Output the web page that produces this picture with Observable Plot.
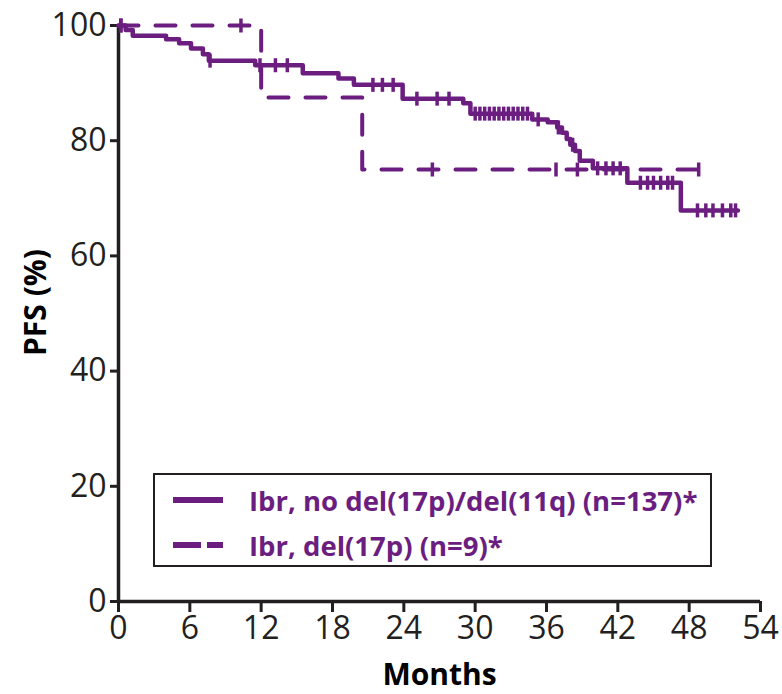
<!DOCTYPE html>
<html>
<head>
<meta charset="utf-8">
<script src="https://cdn.jsdelivr.net/npm/d3@7"></script>
<script src="https://cdn.jsdelivr.net/npm/@observablehq/plot@0.6"></script>
<style>
  body { margin: 0; background: #fff; }
  #wrap { position: relative; width: 782px; height: 694px; }
  #legend {
    position: absolute; left: 153px; top: 473px; width: 555px; height: 90px;
    border: 2px solid #231f20; background: #fff; box-sizing: content-box;
    font-family: "Open Sans", sans-serif; font-weight: 700; font-size: 27.5px; color: #6b1e80;
  }
  #legend .row { position: absolute; left: 0; display: flex; align-items: center; height: 40px; white-space: nowrap; }
  #legend svg { margin-left: 18px; margin-right: 26px; }
</style>
</head>
<body>
<div id="wrap"></div>
<script>
// Kaplan–Meier progression-free survival, ibrutinib arms
const months = [0, 6, 12, 18, 24, 30, 36, 42, 48, 54];
const pfsTicks = [0, 20, 40, 60, 80, 100];
const purple = "#6b1e80";
const ink = "#231f20";

// Ibr, no del(17p)/del(11q): step times (months) and PFS (%) after each step
const noDelTimes = [0, 0.6, 1.2, 4.0, 5.1, 6.1, 7.1, 7.6, 11.5, 15.5, 18.5, 19.8, 23.9, 29.0, 29.6, 34.8, 36.1, 36.9, 37.3, 37.7, 38.0, 38.4, 38.8, 39.9, 42.8, 47.3, 52.1];
const noDelPFS   = [100, 99.2, 98.2, 97.6, 96.9, 96.0, 95.0, 93.9, 93.1, 91.7, 90.8, 89.7, 87.3, 86.5, 84.7, 83.7, 83.2, 82.3, 81.4, 80.3, 79.3, 78.2, 76.5, 75.2, 72.7, 67.9, 67.9];
const noDelCensored = [0.2, 7.7, 11.9, 13.2, 14.2, 21.4, 22.2, 23.1, 25.1, 26.8, 27.8,
  30.0, 30.4, 30.8, 31.2, 31.6, 32.0, 32.4, 32.8, 33.2, 33.6, 34.0, 34.4, 35.3, 37.0, 38.2,
  40.3, 41.0, 41.6, 42.2, 43.9, 44.5, 45.0, 45.6, 46.2, 46.6, 48.7, 49.4, 50.0, 50.8, 51.5, 51.9];

// Ibr, del(17p)
const del17pTimes = [0, 12.0, 20.5, 49.1];
const del17pPFS   = [100, 87.5, 75, 75];
const del17pCensored = [0.2, 10.3, 26.4, 36.8, 38.6, 48.8];

const legendLabels = ["Ibr, no del(17p)/del(11q) (n=137)*", "Ibr, del(17p) (n=9)*"];

const steps = (times, values) => times.map((t, i) => ({t, pfs: values[i]}));
const pfsAt = (times, values, t) => values[d3.bisectRight(times, t) - 1];
const censorPoints = (cens, times, values) => cens.map(t => ({t, pfs: pfsAt(times, values, t)}));

// vertical tick used for censored observations
const censorTick = {draw(ctx, size) { const h = Math.sqrt(size / Math.PI); ctx.moveTo(0, -h); ctx.lineTo(0, h); }};

const chart = Plot.plot({
  width: 782, height: 694,
  marginLeft: 118, marginRight: 22, marginTop: 25, marginBottom: 93,
  style: {fontFamily: "'Open Sans', sans-serif", color: ink, background: "#fff"},
  x: {domain: [0, 54]},
  y: {domain: [0, 100]},
  marks: [
    Plot.axisX({ticks: months, tickSize: 11, tickPadding: 4, strokeWidth: 3, fontSize: 32, label: null, tickFormat: d => d}),
    Plot.axisY({ticks: pfsTicks, tickSize: 8, tickPadding: 4, strokeWidth: 3, fontSize: 32, label: null, tickFormat: d => d}),
    Plot.ruleX([0], {stroke: ink, strokeWidth: 3.5}),
    Plot.ruleY([0], {stroke: ink, strokeWidth: 3.5}),
    Plot.text(["Months"], {frameAnchor: "bottom", lineAnchor: "middle", textAnchor: "middle", dy: 74, fontWeight: "bold", fontSize: 30, fill: "#000"}),
    Plot.text(["PFS (%)"], {frameAnchor: "left", lineAnchor: "middle", textAnchor: "middle", rotate: -90, dx: -82, dy: -11, fontWeight: "bold", fontSize: 30, fill: "#000"}),
    Plot.line(steps(del17pTimes, del17pPFS), {x: "t", y: "pfs", curve: "step-after", stroke: purple, strokeWidth: 4, strokeDasharray: "20,17"}),
    Plot.dot(censorPoints(del17pCensored, del17pTimes, del17pPFS), {x: "t", y: "pfs", symbol: censorTick, r: 7, stroke: purple, strokeWidth: 3.5, fill: "none"}),
    Plot.line(steps(noDelTimes, noDelPFS), {x: "t", y: "pfs", curve: "step-after", stroke: purple, strokeWidth: 4.5}),
    Plot.dot(censorPoints(noDelCensored, noDelTimes, noDelPFS), {x: "t", y: "pfs", symbol: censorTick, r: 7, stroke: purple, strokeWidth: 3.5, fill: "none"})
  ]
});

const wrap = document.getElementById("wrap");
wrap.appendChild(chart);

// legend box over the lower part of the plot
const legend = document.createElement("div");
legend.id = "legend";
const dashes = [null, "28,6"];
legendLabels.forEach((label, i) => {
  const row = document.createElement("div");
  row.className = "row";
  row.style.top = (5 + i * 45) + "px";
  const sw = d3.create("svg").attr("width", 50).attr("height", 10);
  sw.append("line").attr("x1", 0).attr("x2", 50).attr("y1", 5).attr("y2", 5)
    .attr("stroke", purple).attr("stroke-width", 6).attr("stroke-dasharray", dashes[i]);
  row.appendChild(sw.node());
  const span = document.createElement("span");
  span.textContent = label;
  row.appendChild(span);
  legend.appendChild(row);
});
wrap.appendChild(legend);
</script>
</body>
</html>
